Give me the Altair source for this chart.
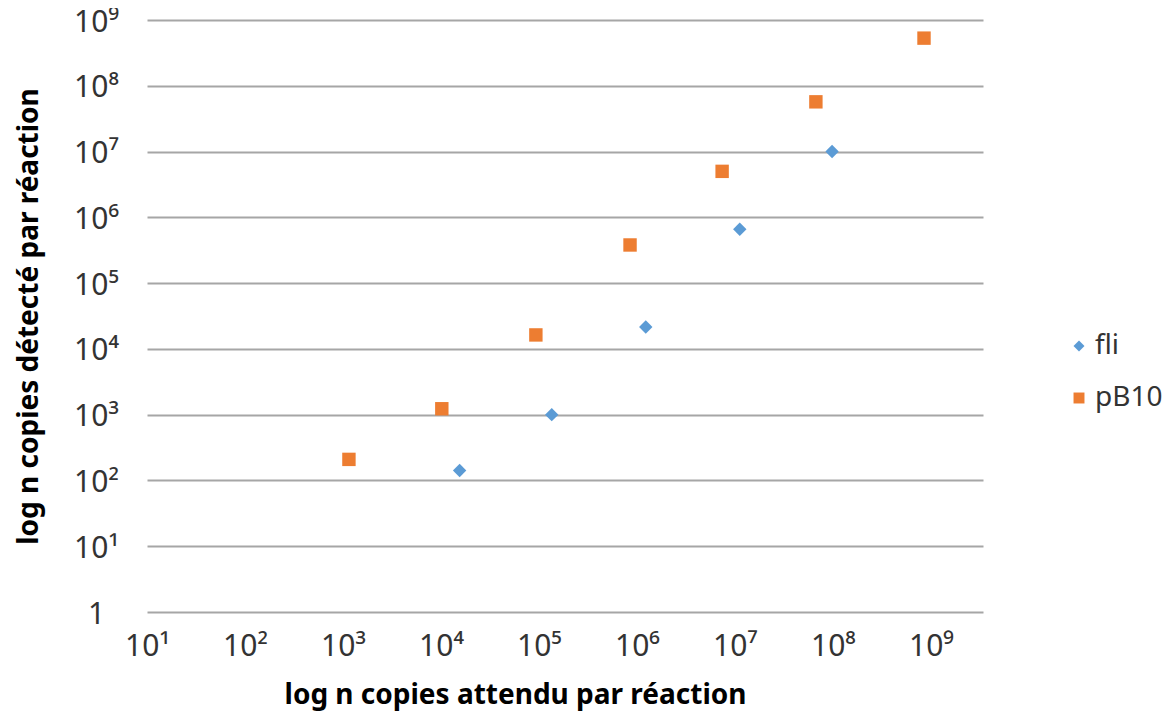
import math
import altair as alt
import pandas as pd

# --- data ---
SERIES = ["fli", "pB10"]
FLI_X = [1.55e4, 1.35e5, 1.23e6, 1.12e7, 9.8e7]
FLI_Y = [142, 1000, 2.15e4, 6.6e5, 1.0e7]
PB10_X = [1150, 1.02e4, 9.3e4, 8.5e5, 7.4e6, 6.7e7, 8.5e8]
PB10_Y = [209, 1230, 1.63e4, 3.8e5, 5.0e6, 5.7e7, 5.3e8]

X_TICKS = [1e1, 1e2, 1e3, 1e4, 1e5, 1e6, 1e7, 1e8, 1e9]
X_TICK_LABELS = ["10¹", "10²", "10³", "10⁴", "10⁵", "10⁶", "10⁷", "10⁸", "10⁹"]
Y_TICKS = [1, 1e1, 1e2, 1e3, 1e4, 1e5, 1e6, 1e7, 1e8, 1e9]
Y_TICK_LABELS = ["1", "10¹", "10²", "10³", "10⁴", "10⁵", "10⁶", "10⁷", "10⁸", "10⁹"]

X_TITLE = "log n  copies attendu par réaction"
Y_TITLE = "log n copies détecté par réaction"
COLORS = ["#5b9bd5", "#ed7d31"]
SHAPES = ["diamond", "square"]

rows = [{"serie": "fli", "x": x, "y": y} for x, y in zip(FLI_X, FLI_Y)]
rows += [{"serie": "pB10", "x": x, "y": y} for x, y in zip(PB10_X, PB10_Y)]
df = pd.DataFrame(rows)


def label_expr(values, labels):
    expr = "''"
    for v, l in reversed(list(zip(values, labels))):
        expr = f"(abs(log(datum.value)/LN10 - {math.log10(v)}) < 0.01) ? '{l}' : {expr}"
    return expr


FONT = "Noto Sans"
TEXT_COLOR = "#333333"
W, H = 836, 592

chart = alt.Chart(df).mark_point(filled=True, opacity=1, size=180).encode(
    x=alt.X(
        "x:Q",
        scale=alt.Scale(type="log", domain=[10, 3.4e9], nice=False),
        axis=alt.Axis(
            values=X_TICKS,
            labelExpr=label_expr(X_TICKS, X_TICK_LABELS),
            grid=False,
            domain=False,
            ticks=False,
            tickSize=0,
            labelPadding=19,
            labelFontSize=30,
            labelFont=FONT,
            labelColor=TEXT_COLOR,
            labelFlush=False,
            labelOverlap=False,
            title=X_TITLE,
            titleFont=FONT,
            titleFontSize=28,
            titleFontWeight="bold",
            titleColor="#000000",
            titleX=368,
            titleY=91,
            titleBaseline="alphabetic",
            titleAnchor="middle",
            titleAlign="center",
        ),
    ),
    y=alt.Y(
        "y:Q",
        scale=alt.Scale(type="log", domain=[1, 1e9], nice=False),
        axis=alt.Axis(
            values=Y_TICKS,
            labelExpr=label_expr(Y_TICKS, Y_TICK_LABELS),
            grid=True,
            gridColor="#a6a6a6",
            gridWidth=2,
            domain=False,
            ticks=False,
            tickSize=0,
            labelAlign="center",
            labelBaseline="middle",
            labelPadding=51,
            labelOffset=2,
            labelFontSize=30,
            labelFont=FONT,
            labelColor=TEXT_COLOR,
            labelFlush=False,
            labelOverlap=False,
            title=Y_TITLE,
            titleFont=FONT,
            titleFontSize=28,
            titleFontWeight="bold",
            titleColor="#000000",
            titleX=-118,
            titleY=H / 2,
            titleAngle=-90,
            titleBaseline="middle",
            titleAlign="center",
        ),
    ),
    color=alt.Color(
        "serie:N",
        scale=alt.Scale(domain=SERIES, range=COLORS),
        legend=alt.Legend(
            title=None,
            orient="none",
            legendX=918,
            legendY=312,
            labelFont=FONT,
            labelFontSize=28,
            labelColor=TEXT_COLOR,
            symbolSize=120,
            rowPadding=24,
            labelOffset=2,
        ),
    ),
    shape=alt.Shape("serie:N", scale=alt.Scale(domain=SERIES, range=SHAPES)),
).properties(
    width=W,
    height=H,
    autosize=alt.AutoSizeParams(type="none"),
    padding={"left": 139, "top": 12, "right": 180, "bottom": 99},
).configure_view(stroke=None)

chart.save("out.html", embed_options={"renderer": "svg", "actions": False})
